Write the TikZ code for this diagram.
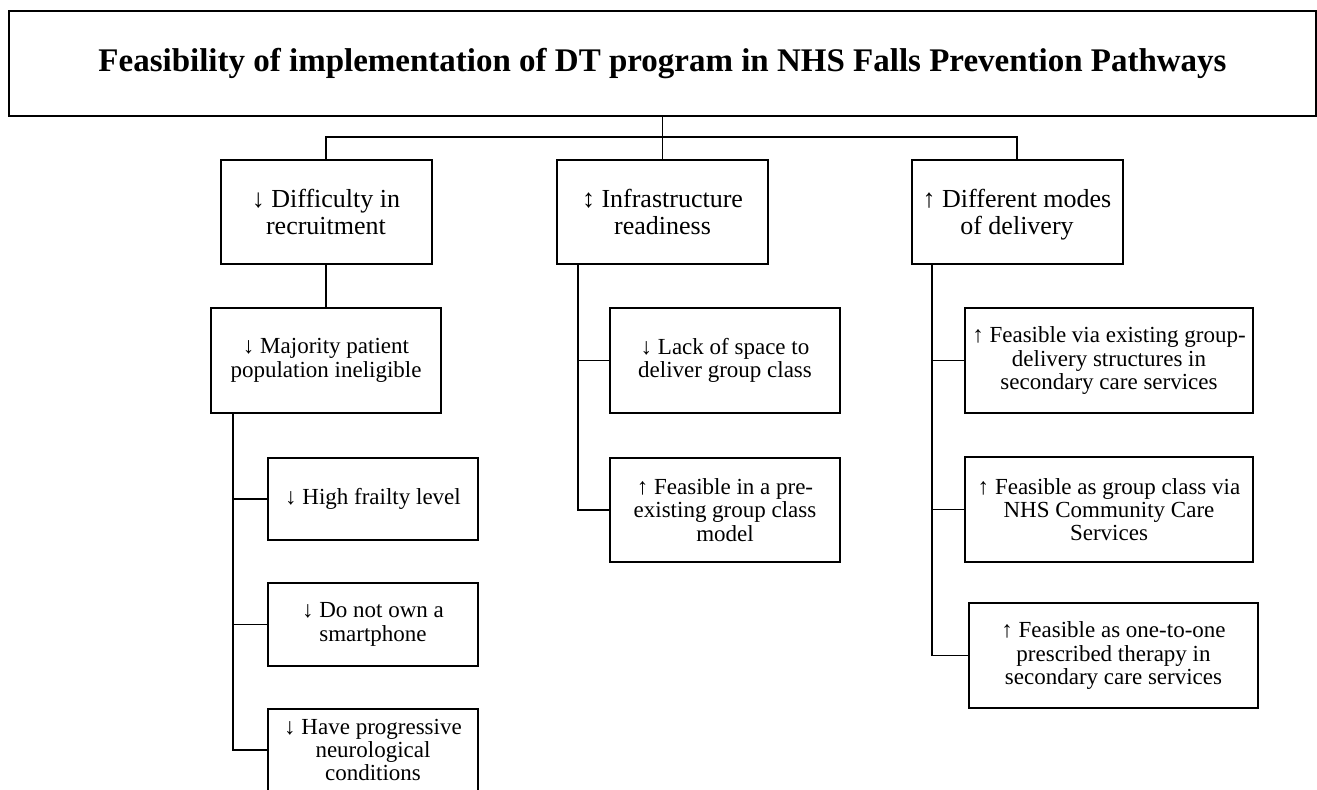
\documentclass[tikz,border=0pt]{standalone}
\usepackage{fontspec}
\setmainfont{Liberation Serif}
\begin{document}
\begin{tikzpicture}[x=0.75pt,y=-0.75pt,
  box/.style={draw, line width=1.5pt, inner sep=0pt, align=center, anchor=center},
  sz/.style 2 args={minimum width=#1*0.75pt, minimum height=#2*0.75pt},
  titlebox/.style={box, font=\fontsize{24.75}{28}\selectfont\bfseries},
  bigbox/.style={box, font=\fontsize{19.5}{20}\selectfont},
  smallbox/.style={box, font=\fontsize{17.25}{17.5}\selectfont},
  link/.style={line width=1pt}]
\useasboundingbox (0,0) rectangle (1317,789);
\fill[white] (0,0) rectangle (1317,789);
\clip (0,0) rectangle (1317,789);

\node[titlebox, sz={1307}{105}] (T) at (662.5,63.5) {Feasibility of implementation of DT program in NHS Falls Prevention Pathways};

\node[bigbox, sz={211}{104}] (A) at (326,212) {↓ Difficulty in\\recruitment};
\node[bigbox, sz={211}{104}] (B) at (662.5,212) {↕ Infrastructure\\readiness};
\node[bigbox, sz={211}{104}] (C) at (1017,212) {↑ Different modes\\of deliver\smash{y}};

\node[smallbox, sz={230}{105}] (D) at (326,360.5) {↓ Majority patient\\population ineligible};
\node[smallbox, sz={210}{82}] (E) at (373,499) {↓ High frailty level};
\node[smallbox, sz={210}{83}] (F) at (373,624.5) {↓ Do not own a\\smartphone};
\node[smallbox, sz={210}{82}] (G) at (373,750) {↓ Have progressive\\neurological\\conditions};

\node[smallbox, sz={230}{105}] (H) at (725,360.5) {↓ Lack of space to\\deliver group class};
\node[smallbox, sz={230}{104}] (I) at (725,510) {↑ Feasible in a pre-\\existing group class\\model};

\node[smallbox, sz={288}{105}] (J) at (1109,360.5) {↑ Feasible via existing group-\\delivery structures in\\secondary care services};
\node[smallbox, sz={288}{105}] (K) at (1109,509.5) {↑ Feasible as group class via\\NHS Community Care\\Services};
\node[smallbox, sz={289}{105}] (L) at (1113.5,655.5) {↑ Feasible as one-to-one\\prescribed therapy in\\secondary care services};

% connectors
\draw[link] (T.south) -- (B.north);
\draw[link] (A.north) -- ++(0,-22) -| (C.north);
\draw[link] (A.south) -- (D.north);

\coordinate (dtop) at ([xshift=17.25pt]D.south west);
\draw[link] (dtop) |- (G.west);
\draw[link] (dtop |- E.west) -- (E.west);
\draw[link] (dtop |- F.west) -- (F.west);

\coordinate (btop) at ([xshift=16.5pt]B.south west);
\draw[link] (btop) |- (I.west);
\draw[link] (btop |- H.west) -- (H.west);

\coordinate (ctop) at ([xshift=16.1pt]C.south west);
\draw[link] (ctop) |- (L.west);
\draw[link] (ctop |- J.west) -- (J.west);
\draw[link] (ctop |- K.west) -- (K.west);
\end{tikzpicture}
\end{document}
